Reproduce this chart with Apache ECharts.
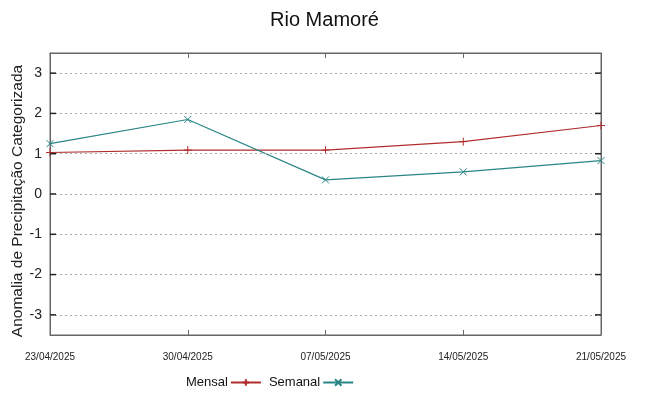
<!DOCTYPE html>
<html>
<head>
<meta charset="utf-8">
<script src="https://cdn.jsdelivr.net/npm/echarts@6/dist/echarts.min.js"></script>
<style>
  html, body { margin: 0; padding: 0; background: #fff; }
  #chart { width: 649px; height: 396px; }
</style>
</head>
<body>
<div id="chart"></div>
<script>
const dates = ['23/04/2025', '30/04/2025', '07/05/2025', '14/05/2025', '21/05/2025'];
const mensal = [1.03, 1.09, 1.09, 1.30, 1.70];
const semanal = [1.25, 1.85, 0.35, 0.55, 0.83];
const yTicks = [-3, -2, -1, 0, 1, 2, 3];

const frameColor = '#666';
const baseFont = '"Liberation Sans", Arial, sans-serif';
const plusPath = 'path://M5,0 L5,10 M0,5 L10,5';
const crossPath = 'path://M0,0 L10,10 M10,0 L0,10';

const chart = echarts.init(document.getElementById('chart'));

chart.setOption({
    animation: false,
    title: {
        text: 'Rio Mamoré',
        left: 'center',
        top: 5,
        textStyle: {fontFamily: baseFont, fontSize: 20, fontWeight: 'normal', color: '#111'},
    },
    grid: {
        left: 50, right: 48, top: 53, bottom: 61,
        outerBoundsMode: 'none',
        containLabel: false,
        show: true, borderColor: frameColor, borderWidth: 1,
    },
    legend: {
        bottom: 2,
        left: 181,
        align: 'right',
        itemWidth: 30,
        itemHeight: 8,
        itemGap: 7,
        textStyle: {fontFamily: baseFont, fontSize: 13, color: '#111', padding: [0, -2, 0, 0]},
        data: ['Mensal', 'Semanal'],
    },
    xAxis: [{
        type: 'category',
        data: dates,
        boundaryGap: false,
        axisLine: {onZero: false, lineStyle: {color: frameColor}},
        axisTick: {inside: true, length: 5, lineStyle: {color: frameColor}},
        axisLabel: {fontFamily: baseFont, fontSize: 10, color: '#222', margin: 17},
        splitLine: {show: false},
    }, {
        type: 'category',
        data: dates,
        boundaryGap: false,
        position: 'top',
        axisLine: {onZero: false, lineStyle: {color: frameColor}},
        axisTick: {inside: true, length: 5, lineStyle: {color: frameColor}},
        axisLabel: {show: false},
    }],
    yAxis: [{
        type: 'value',
        min: -3.5,
        max: 3.5,
        interval: 0.5,
        name: 'Anomalia de Precipitação Categorizada',
        nameLocation: 'middle',
        nameGap: 24,
        nameMoveOverlap: false,
        nameTextStyle: {fontFamily: baseFont, fontSize: 15.5, color: '#222', padding: [0, 14, 0, 0]},
        axisLine: {show: true, onZero: false, lineStyle: {color: frameColor}},
        axisTick: {show: false},
        axisLabel: {
            fontFamily: baseFont, fontSize: 14, color: '#222', margin: 8,
            formatter: v => yTicks.includes(v) ? String(v) : '',
        },
        splitLine: {show: false},
    }, {
        type: 'value',
        min: -3.5,
        max: 3.5,
        interval: 0.5,
        position: 'right',
        axisLine: {show: true, onZero: false, lineStyle: {color: frameColor}},
        axisTick: {show: false},
        axisLabel: {show: false},
        splitLine: {show: false},
    }],
    series: [{
        name: 'Mensal',
        type: 'line',
        data: mensal,
        symbol: plusPath,
        symbolSize: 8,
        lineStyle: {color: '#b22d2d', width: 1.2},
        itemStyle: {color: '#b22d2d', borderColor: '#b22d2d', borderWidth: 1},
        z: 3,
    }, {
        name: 'Semanal',
        type: 'line',
        data: semanal,
        symbol: crossPath,
        symbolSize: 7,
        lineStyle: {color: '#2a8585', width: 1.2},
        itemStyle: {color: '#2a8585', borderColor: '#2a8585', borderWidth: 1},
        z: 4,
    }, {
        // dotted grid lines at the labelled values
        type: 'line',
        data: [],
        markLine: {
            silent: true,
            symbol: 'none',
            label: {show: false},
            lineStyle: {color: '#aaa', type: [2, 3], width: 1},
            data: yTicks.map(v => ({yAxis: v})),
        },
        z: 1,
    }],
});

// short inward tick marks on both vertical axes
const tickGraphics = [];
const x0 = chart.convertToPixel({xAxisIndex: 0}, dates[0]);
const x1 = chart.convertToPixel({xAxisIndex: 0}, dates[dates.length - 1]);
yTicks.forEach(v => {
    const y = chart.convertToPixel({yAxisIndex: 0}, v);
    tickGraphics.push({type: 'line', shape: {x1: x0, y1: y, x2: x0 + 6, y2: y}, style: {stroke: '#222', lineWidth: 1.5}, z: 10});
    tickGraphics.push({type: 'line', shape: {x1: x1 - 6, y1: y, x2: x1, y2: y}, style: {stroke: '#222', lineWidth: 1.5}, z: 10});
});
chart.setOption({graphic: tickGraphics});
</script>
</body>
</html>
